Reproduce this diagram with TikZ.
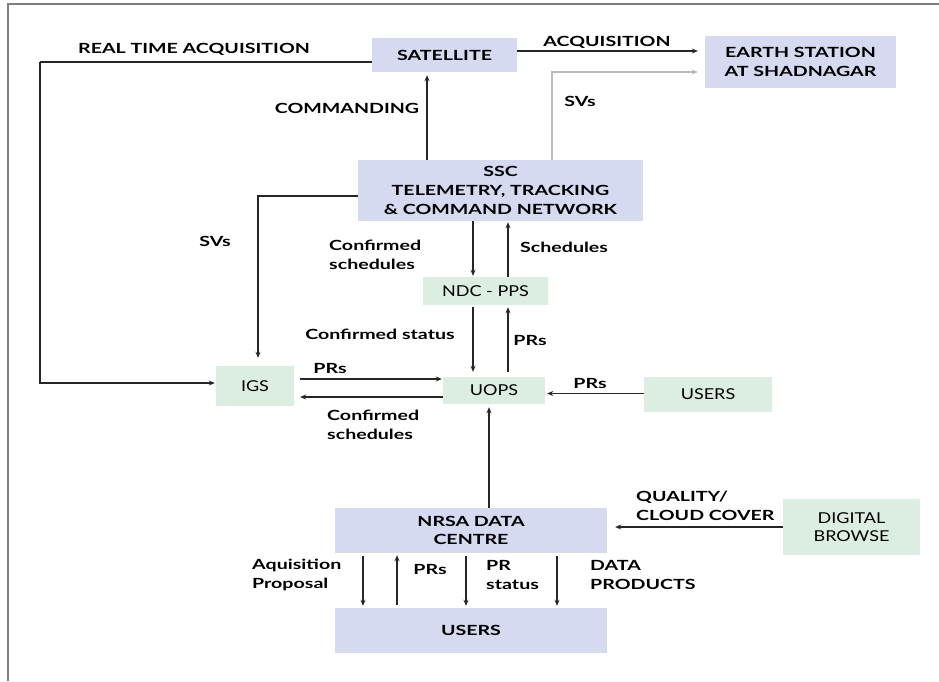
\documentclass[tikz,border=0pt]{standalone}
\usepackage{fontspec}
\setmainfont{Lato}
\newfontfamily\widebold[FakeStretch=1.4]{Lato}
\newfontfamily\wideregular[FakeStretch=1.2]{Lato}
\usetikzlibrary{arrows.meta}
\definecolor{boxblue}{RGB}{213,218,240}
\definecolor{boxgreen}{RGB}{220,238,226}
\definecolor{framegray}{RGB}{125,125,125}
\definecolor{svgray}{RGB}{185,185,185}
\begin{document}
\begin{tikzpicture}[x=1pt,y=-1pt,
  bluebox/.style={rectangle,fill=boxblue,inner sep=0pt,align=center,font=\widebold\bfseries\fontsize{14}{19}\selectfont},
  greenbox/.style={rectangle,fill=boxgreen,inner sep=0pt,align=center,font=\wideregular\fontsize{15}{17.5}\selectfont},
  lbl/.style={inner sep=0pt,align=left,font=\widebold\bfseries\fontsize{14}{19}\selectfont},
  arr/.style={draw=black!85,line width=1.3pt,-{Stealth[length=6pt,width=5pt]}},
  garr/.style={draw=svgray,line width=1.1pt,-{Stealth[length=6pt,width=5pt,fill=black!80]}},
  plain/.style={draw=black!85,line width=1.3pt}]
\useasboundingbox (0,0) rectangle (939,681);
\fill[white] (0,0) rectangle (939,681);
\draw[framegray,line width=2pt] (8,681) -- (8,4) -- (939,4);

% nodes
\node[bluebox,minimum width=145,minimum height=34] (SAT) at (444.5,55) {SATELLITE};
\node[bluebox,minimum width=191,minimum height=52] (EARTH) at (800.5,62) {EARTH STATION\\AT SHADNAGAR};
\node[bluebox,minimum width=285,minimum height=61] (SSC) at (500.5,190.5) {SSC\\TELEMETRY, TRACKING\\\& COMMAND NETWORK};
\node[greenbox,minimum width=125,minimum height=28] (NDC) at (485.5,291) {NDC - PPS};
\node[greenbox,minimum width=102,minimum height=27] (UOPS) at (494,390.5) {UOPS};
\node[greenbox,minimum width=78,minimum height=40] (IGS) at (255,386) {IGS};
\node[greenbox,minimum width=128,minimum height=35] (USR1) at (708,394.5) {USERS};
\node[bluebox,minimum width=272,minimum height=45,font=\widebold\bfseries\fontsize{14}{18}\selectfont] (NRSA) at (471,530.5) {NRSA DATA\\CENTRE};
\node[greenbox,minimum width=137,minimum height=56] (DB) at (851.5,527) {DIGITAL\\BROWSE};
\node[bluebox,minimum width=272,minimum height=45] (USR2) at (471,630.5) {USERS};

% connectors
\draw[arr,shorten >=7pt] ([yshift=4pt]SAT.east) -- ([yshift=4pt]SAT.east -| EARTH.west);
\draw[garr,shorten >=7pt] ([xshift=51.5pt]SSC.north) |- ([yshift=-10pt]EARTH.west);
\coordinate (rtc) at (40,62);
\draw[plain] ([yshift=-7pt]SAT.west) -- (rtc);
\draw[arr,shorten >=1pt] (rtc) |- ([yshift=3pt]IGS.west);
\draw[arr,shorten >=3pt] ([xshift=-73.5pt]SSC.north) -- ([xshift=-73.5pt]SSC.north |- SAT.south);
\draw[arr,shorten >=8pt] ([yshift=-5.5pt]SSC.west) -| ([xshift=3pt]IGS.north);
\draw[arr,shorten >=1pt] ([xshift=-12.5pt]NDC.north |- SSC.south) -- ([xshift=-12.5pt]NDC.north);
\draw[arr,shorten >=1pt] ([xshift=22.5pt]NDC.north) -- ([xshift=22.5pt]NDC.north |- SSC.south);
\draw[arr,shorten <=2pt,shorten >=5pt] ([xshift=-12.5pt]NDC.south) -- ([xshift=-12.5pt]NDC.south |- UOPS.north);
\draw[arr,shorten <=5pt,shorten >=2pt] ([xshift=22.5pt]NDC.south |- UOPS.north) -- ([xshift=22.5pt]NDC.south);
\draw[arr,shorten <=6pt,shorten >=1pt] ([yshift=7pt]IGS.east) -- ([yshift=7pt]IGS.east -| UOPS.west);
\draw[arr,shorten >=6pt] ([yshift=-6.5pt]UOPS.west) -- ([yshift=-6.5pt]UOPS.west -| IGS.east);
\draw[arr,shorten >=2pt] ([yshift=1pt]USR1.west) -- ([yshift=1pt]USR1.west -| UOPS.east);
\draw[arr,shorten >=3pt] ([xshift=18pt]NRSA.north) -- ([xshift=18pt]NRSA.north |- UOPS.south);
\draw[arr,shorten >=8pt] (DB.west) -- (DB.west -| NRSA.east);
\draw[arr,shorten <=3pt,shorten >=2pt] ([xshift=-108pt]NRSA.south) -- ([xshift=-108pt]NRSA.south |- USR2.north);
\draw[arr,shorten <=3pt,shorten >=2pt] ([xshift=-74pt]USR2.north) -- ([xshift=-74pt]USR2.north |- NRSA.south);
\draw[arr,shorten <=3pt,shorten >=2pt] ([xshift=-5pt]NRSA.south) -- ([xshift=-5pt]NRSA.south |- USR2.north);
\draw[arr,shorten <=3pt,shorten >=2pt] ([xshift=86pt]NRSA.south) -- ([xshift=86pt]NRSA.south |- USR2.north);

% labels
\node[lbl] (l1) at (194,49) {REAL TIME ACQUISITION};
\node[lbl] (l2) at (607,42) {ACQUISITION};
\node[lbl] (l3) at (580,101) {SVs};
\node[lbl] (l4) at (347,108) {COMMANDING};
\node[lbl] (l5) at (215,241) {SVs};
\node[lbl,anchor=west] (l6) at (329,255) {Confirmed\\schedules};
\node[lbl,anchor=west] (l7) at (520,247) {Schedules};
\node[lbl] (l8) at (380,334) {Confirmed status};
\node[lbl] (l9) at (530,340) {PRs};
\node[lbl] (l10) at (330,368) {PRs};
\node[lbl,anchor=west] (l11) at (327,425) {Confirmed\\schedules};
\node[lbl] (l12) at (590,383) {PRs};
\node[lbl,anchor=west] (l13) at (636,506) {QUALITY/\\CLOUD COVER};
\node[lbl,anchor=west] (l14) at (252,575) {Aquisition\\Proposal};
\node[lbl] (l15) at (430,569) {PRs};
\node[lbl,anchor=west] (l16) at (486,575) {PR\\status};
\node[lbl,anchor=west] (l17) at (590,575) {DATA\\PRODUCTS};
\end{tikzpicture}
\end{document}
